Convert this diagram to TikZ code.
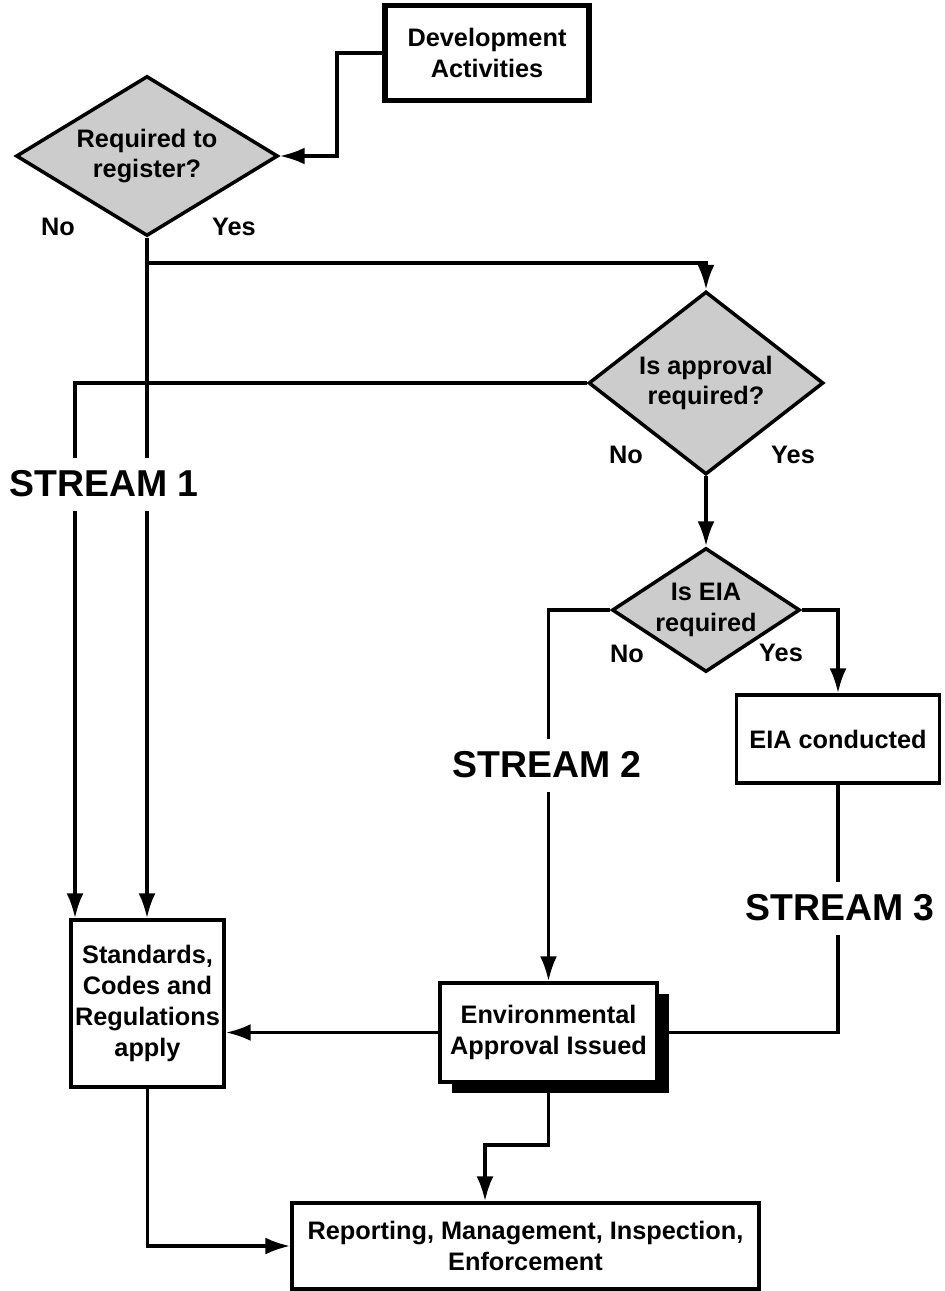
\documentclass[tikz,border=0pt]{standalone}
\usepackage{fontspec}
\setmainfont{Liberation Sans}
\usetikzlibrary{arrows.meta,shapes.geometric,shadows}
\definecolor{decgray}{RGB}{204,204,204}

\begin{document}
\begin{tikzpicture}[x=0.02cm,y=-0.02cm,>={Latex[length=0.5cm,width=0.34cm]},
	line width=2pt,font=\bfseries\fontsize{14.4}{17.5}\selectfont,
	box/.style={draw,fill=white,align=center,inner sep=0pt},
	decision/.style={diamond,draw,fill=decgray,align=center,inner sep=0pt},
	stream/.style={fill=white,inner xsep=4pt,minimum height=1.06cm,font=\bfseries\fontsize{21.3}{24}\selectfont}]
		%			\draw [help lines] (0,0) grid (944,1291);
		\useasboundingbox (0,0) rectangle (944,1291);
		\node [box,line width=3pt,minimum width=4.08cm,minimum height=1.9cm] (dev) at (487,53) {Development\\Activities};
		\node [decision,aspect=1.64,minimum width=5.24cm,minimum height=3.2cm] (reg) at (147,156) {Required to\\register?};
		\node [decision,aspect=1.28,minimum width=4.7cm,minimum height=3.66cm] (appr) at (706,383) {Is approval\\required?};
		\node [decision,aspect=1.52,minimum width=3.76cm,minimum height=2.48cm] (eia) at (706,610) {Is EIA\\required};
		\node [box,minimum width=4.06cm,minimum height=1.76cm] (cond) at (838,739) {EIA conducted};
		\node [box,minimum width=3.06cm,minimum height=3.34cm] (std) at (147.5,1003.5) {Standards,\\Codes and\\Regulations\\apply};
		\node [box,minimum width=4.34cm,minimum height=1.98cm,drop shadow={shadow xshift=0.24cm,shadow yshift=-0.22cm,opacity=1,fill=black}] (env) at (548.5,1032.5) {Environmental\\Approval Issued};
		\node [box,minimum width=9.34cm,minimum height=1.72cm] (rep) at (525.5,1246) {Reporting, Management, Inspection,\\Enforcement};
		\node (no1) at (58,227) {No};
		\node (yes1) at (234,227) {Yes};
		\node (no2) at (626,455) {No};
		\node (yes2) at (793,455) {Yes};
		\node (no3) at (627,654) {No};
		\node (yes3) at (781,653) {Yes};
		\coordinate (c0) at (337,53);
		\coordinate (j1) at (147,263);
		\coordinate (c1) at (75,383);
		\coordinate (c4) at (485,1145);
		\draw [->] (dev.west) -- (c0) |- (reg.east);
		\draw [->] (reg.south) -- (reg.south |- std.north);
		\draw [->] (j1) -| (appr.north);
		\draw [->] (appr.west) -- (c1) -- (c1 |- std.north);
		\draw [->] (appr.south) -- (eia.north);
		\draw [->] (eia.west) -| (env.north);
		\draw [->] (eia.east) -| (cond.north);
		\draw (cond.south) |- (env.east);
		\draw [->] (env.west) -- (env.west -| std.east);
		\draw [->] (env.south) |- (c4) -- (c4 |- rep.north);
		\draw [->] (std.south) |- (rep.west);
		\node [stream] (s1) at (104,484) {STREAM 1};
		\node [stream] (s2) at (547,765) {STREAM 2};
		\node [stream] (s3) at (840,908) {STREAM 3};
	\end{tikzpicture}
\end{document}
